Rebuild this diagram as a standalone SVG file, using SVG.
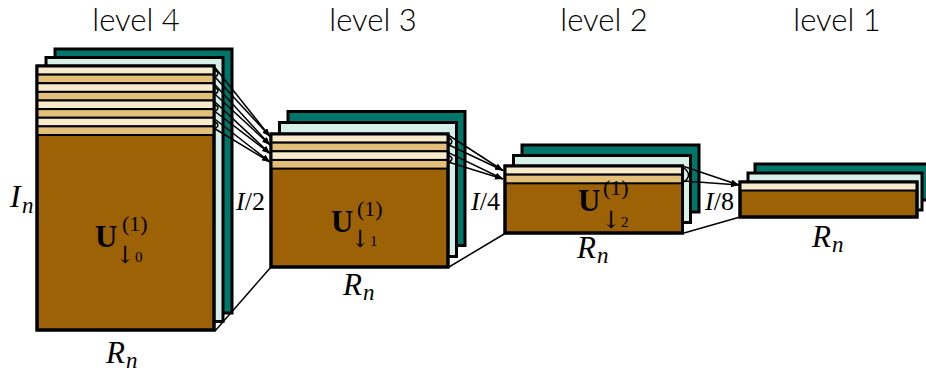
<svg xmlns="http://www.w3.org/2000/svg" width="926" height="374" viewBox="0 0 926 374">
<defs>
<style>
.bk{fill:#00766a;stroke:#000;stroke-width:3}
.md{fill:#d6efe9;stroke:#000;stroke-width:3}
.br{fill:#9c6205;stroke:#000;stroke-width:3}
.cr{fill:#f8ebcb;stroke:#000;stroke-width:2}
.tn{fill:#e2c07a;stroke:#000;stroke-width:2}
.ol{fill:none;stroke:#000;stroke-width:3}
.ln{fill:none;stroke:#000;stroke-width:1.5}
.ar{fill:none;stroke:#000;stroke-width:1.5;marker-end:url(#ah)}
.lv{font-family:Lato,"Liberation Sans",sans-serif;font-weight:300;font-size:31px;fill:#000;text-anchor:middle}
.mi{font-family:"Liberation Serif",serif;font-style:italic;fill:#000}
.mr{font-family:"Liberation Serif",serif;fill:#000}
.ub{font-family:"Liberation Serif",serif;font-weight:bold;font-size:31px;fill:#000}
.sm{font-family:"DejaVu Serif","Liberation Serif",serif;font-size:24px;fill:#000}
.sd{font-family:"Liberation Serif",serif;font-size:15px;fill:#000}
</style>
<marker id="ah" markerWidth="8" markerHeight="6" refX="8" refY="3" orient="auto" markerUnits="userSpaceOnUse">
<path d="M0,0 L8,3 L0,6 z" fill="#000"/>
</marker>
</defs>
<rect width="926" height="374" fill="#fff"/>

<g id="titles">
<text class="lv" x="136" y="31">level 4</text>
<text class="lv" x="373" y="31">level 3</text>
<text class="lv" x="604" y="31">level 2</text>
<text class="lv" x="837" y="31">level 1</text>
</g>

<g id="level4">
<rect class="bk" x="55" y="49" width="177" height="264"/>
<rect class="md" x="46" y="57.5" width="177" height="264"/>
<rect class="br" x="37" y="66" width="177" height="264"/>
<rect class="cr" x="37" y="66" width="177" height="8.625"/>
<rect class="tn" x="37" y="74.625" width="177" height="8.625"/>
<rect class="cr" x="37" y="83.25" width="177" height="8.625"/>
<rect class="tn" x="37" y="91.875" width="177" height="8.625"/>
<rect class="cr" x="37" y="100.5" width="177" height="8.625"/>
<rect class="tn" x="37" y="109.125" width="177" height="8.625"/>
<rect class="cr" x="37" y="117.75" width="177" height="8.625"/>
<rect class="tn" x="37" y="126.375" width="177" height="8.625"/>
<rect class="ol" x="37" y="66" width="177" height="264"/>
<text class="ub" x="95" y="247">U</text>
<text class="mr" x="122" y="231" font-size="22">(1)</text>
<text x="115" y="263"><tspan class="sm">↓</tspan><tspan class="sd" dy="-1">0</tspan></text>
</g>

<g id="level3">
<rect class="bk" x="288" y="111.5" width="177" height="134"/>
<rect class="md" x="279.5" y="122.5" width="177" height="134"/>
<rect class="br" x="271" y="134" width="177" height="133"/>
<rect class="cr" x="271" y="134" width="177" height="8.65"/>
<rect class="tn" x="271" y="142.65" width="177" height="8.65"/>
<rect class="cr" x="271" y="151.3" width="177" height="8.65"/>
<rect class="tn" x="271" y="159.95" width="177" height="8.65"/>
<rect class="ol" x="271" y="134" width="177" height="133"/>
<text class="ub" x="331" y="232">U</text>
<text class="mr" x="357" y="216" font-size="22">(1)</text>
<text x="350" y="247"><tspan class="sm">↓</tspan><tspan class="sd" dy="-1">1</tspan></text>
</g>

<g id="level2">
<rect class="bk" x="522" y="145" width="177" height="67"/>
<rect class="md" x="513.5" y="155.5" width="177" height="67"/>
<rect class="br" x="505" y="166" width="177.5" height="67"/>
<rect class="cr" x="505" y="166" width="177.5" height="8.65"/>
<rect class="tn" x="505" y="174.65" width="177.5" height="8.65"/>
<rect class="ol" x="505" y="166" width="177.5" height="67"/>
<text class="ub" x="578" y="211">U</text>
<text class="mr" x="603" y="195" font-size="22">(1)</text>
<text x="601" y="228"><tspan class="sm">↓</tspan><tspan class="sd" dy="-1">2</tspan></text>
</g>

<g id="level1">
<rect class="bk" x="755" y="164" width="177" height="36"/>
<rect class="md" x="748" y="173" width="174" height="37"/>
<rect class="br" x="740" y="182" width="177" height="35"/>
<rect class="cr" x="740" y="182" width="177" height="8.5"/>
<rect class="ol" x="740" y="182" width="177" height="35"/>
</g>

<g id="connectors">
<path class="ar" d="M215,67.5 L270,136.5"/>
<path class="ar" d="M215,77 L270,136.5"/>
<path class="ln" d="M215,70 q6,3.5 0,7"/>
<path class="ar" d="M215,84.75 L270,145"/>
<path class="ar" d="M215,94.25 L270,145"/>
<path class="ln" d="M215,87.25 q6,3.5 0,7"/>
<path class="ar" d="M215,102 L270,153.5"/>
<path class="ar" d="M215,111.5 L270,153.5"/>
<path class="ln" d="M215,104.5 q6,3.5 0,7"/>
<path class="ar" d="M215,119.25 L270,162"/>
<path class="ar" d="M215,128.75 L270,162"/>
<path class="ln" d="M215,121.75 q6,3.5 0,7"/>
<path class="ln" d="M215,331 L271,267"/>

<path class="ar" d="M449,135.5 L503,170.5"/>
<path class="ar" d="M449,145 L503,170.5"/>
<path class="ln" d="M449,138 q6,3.5 0,7"/>
<path class="ar" d="M449,152.8 L503,179"/>
<path class="ar" d="M449,162.3 L503,179"/>
<path class="ln" d="M449,155.3 q6,3.5 0,7"/>
<path class="ln" d="M449,267 L505,233.5"/>

<path class="ar" d="M684,166.5 L739,185"/>
<path class="ar" d="M684,181 L739,185"/>
<path class="ln" d="M684,168 q9,7 0,14"/>
<path class="ln" d="M684,233 L740,217"/>
</g>

<g id="labels">
<text class="mi" x="10" y="207" font-size="32">I</text>
<text class="mi" x="22" y="213" font-size="23">n</text>
<text class="mi" x="106" y="363" font-size="31">R</text>
<text class="mi" x="126" y="368" font-size="23">n</text>
<text class="mi" x="343" y="295" font-size="31">R</text>
<text class="mi" x="363" y="300" font-size="23">n</text>
<text class="mi" x="577" y="258" font-size="31">R</text>
<text class="mi" x="597" y="263" font-size="23">n</text>
<text class="mi" x="812" y="247" font-size="31">R</text>
<text class="mi" x="832" y="252" font-size="23">n</text>
<text x="236" y="210" font-size="26"><tspan class="mi">I</tspan><tspan class="mr">/2</tspan></text>
<text x="471" y="210" font-size="26"><tspan class="mi">I</tspan><tspan class="mr">/4</tspan></text>
<text x="705" y="210" font-size="26"><tspan class="mi">I</tspan><tspan class="mr">/8</tspan></text>
</g>
</svg>
